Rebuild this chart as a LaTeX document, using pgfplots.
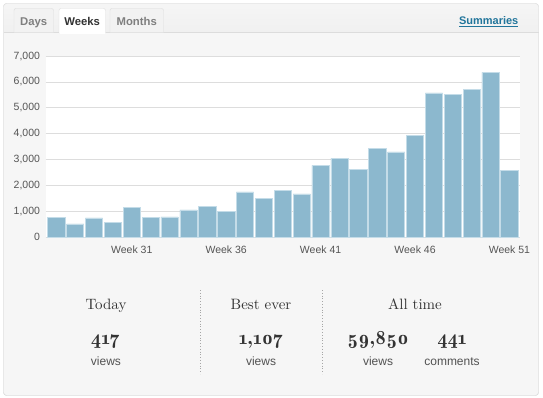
\documentclass[border=0pt]{standalone}
\usepackage{fontspec}
\setmainfont{Liberation Sans}
\newfontfamily\serif{lmroman10-regular}[Extension=.otf, Numbers=OldStyle]
\newfontfamily\serifdemi{lmromandemi10-regular}[Extension=.otf, Numbers=OldStyle]
\usepackage{pgfplots}
\pgfplotsset{compat=1.18}
\definecolor{barfill}{HTML}{8CB8CE}
\definecolor{baredge}{HTML}{C4DCE8}
\definecolor{gridc}{HTML}{DDDDDD}
\definecolor{panel}{HTML}{F6F6F6}
\definecolor{hdr}{HTML}{F0F0F0}
\definecolor{tabfill}{HTML}{F2F2F2}
\definecolor{bordc}{HTML}{DCDCDC}
\definecolor{linkc}{HTML}{21759B}
\definecolor{tabtext}{HTML}{7F7F7F}
\definecolor{ticktext}{HTML}{555555}
\definecolor{statc}{HTML}{333333}
\begin{document}
\begin{tikzpicture}
\useasboundingbox (0pt,0pt) rectangle (543pt,-398pt);
\fill[white] (0pt,0pt) rectangle (543pt,-398pt);
\begin{scope}[x=1pt,y=-1pt]
  % panel
  \draw[bordc, fill=panel, rounded corners=3pt] (3.5,3.5) rectangle (538.5,395.5);
  \begin{scope}
    \clip[rounded corners=3pt] (3.5,3.5) rectangle (538.5,395.5);
    \shade[top color=hdr!60!white, bottom color=hdr] (0,0) rectangle (543,32.5);
  \end{scope}
  \draw[bordc, rounded corners=3pt] (3.5,3.5) rectangle (538.5,395.5);
  \draw[bordc] (3.5,32.5) -- (538.5,32.5);
  % tabs
  \draw[bordc, fill=tabfill, rounded corners=2pt] (14,32.5) -- (14,8.5) -- (53.5,8.5) -- (53.5,32.5);
  \draw[bordc, fill=white, rounded corners=2pt] (59,33) -- (59,8.5) -- (105.5,8.5) -- (105.5,33);
  \fill[white] (59.5,32) rectangle (105,34);
  \draw[bordc, fill=tabfill, rounded corners=2pt] (110,32.5) -- (110,8.5) -- (163.5,8.5) -- (163.5,32.5);
  \node[anchor=base, inner sep=0pt, font=\bfseries\fontsize{11.3}{13}\selectfont, text=tabtext] at (33.7,25.3) {Days};
  \node[anchor=base, inner sep=0pt, font=\bfseries\fontsize{11.3}{13}\selectfont, text=statc] at (82.2,25.3) {Weeks};
  \node[anchor=base, inner sep=0pt, font=\bfseries\fontsize{11.3}{13}\selectfont, text=tabtext] at (136.7,25.3) {Months};
  \node[anchor=base, inner sep=0pt, font=\bfseries\fontsize{11}{13}\selectfont, text=linkc] at (488.7,24.5) {Summaries};
  \draw[linkc, line width=0.9pt] (459,26.3) -- (518.3,26.3);
  % stats
  \draw[gray!70, dotted, line width=0.8pt] (200,290) -- (200,374);
  \draw[gray!70, dotted, line width=0.8pt] (322,290) -- (322,374);
  \begin{scope}[every node/.style={anchor=base, inner sep=0pt}]
    \node[font=\serif\fontsize{15}{16}\selectfont, text=statc] at (106,309.3) {Today};
    \node[font=\serif\fontsize{15}{16}\selectfont, text=statc] at (261,309.3) {Best ever};
    \node[font=\serif\fontsize{15}{16}\selectfont, text=statc] at (415,309.3) {All time};
    \node[font=\serifdemi\fontsize{20}{24}\selectfont, text=statc] at (105.5,344) {417};
    \node[font=\serifdemi\fontsize{20}{24}\selectfont, text=statc] at (261,344) {1,107};
    \node[font=\serifdemi\fontsize{20}{24}\selectfont, text=statc] at (378,344) {59,850};
    \node[font=\serifdemi\fontsize{20}{24}\selectfont, text=statc] at (452,344) {441};
    \node[font=\fontsize{12}{14}\selectfont, text=statc!85] at (106,365) {views};
    \node[font=\fontsize{12}{14}\selectfont, text=statc!85] at (261,365) {views};
    \node[font=\fontsize{12}{14}\selectfont, text=statc!85] at (378,365) {views};
    \node[font=\fontsize{12}{14}\selectfont, text=statc!85] at (452,365) {comments};
  \end{scope}
\end{scope}
\begin{axis}[
  at={(45.7pt,-237.3pt)}, anchor=south west,
  scale only axis, width=474.3pt, height=181.3pt,
  xmin=-0.56, xmax=24.56, ymin=0, ymax=7000,
  axis background/.style={fill=white},
  axis line style={draw=none},
  ymajorgrids, grid style={gridc, line width=0.8pt},
  major tick length=0pt,
  ytick={0,1000,...,7000},
  scaled y ticks=false,
  /pgf/number format/assume math mode=true,
  /pgf/number format/1000 sep={,},
  yticklabel style={font=\fontsize{10.5}{12}\selectfont, text=ticktext, xshift=-2.2pt},
  xtick={4,9,14,19,24},
  xticklabels={Week 31,Week 36,Week 41,Week 46,Week 51},
  xticklabel style={font=\fontsize{10.5}{12}\selectfont, text=ticktext, yshift=-5pt},
  ybar, bar width=0.915,
]
\addplot[fill=barfill, draw=baredge, line width=0.6pt] coordinates {
(0,772) (1,515) (2,746) (3,579) (4,1158) (5,759) (6,785) (7,1055) (8,1197) (9,991)
(10,1750) (11,1506) (12,1802) (13,1673) (14,2780) (15,3050) (16,2625) (17,3436)
(18,3295) (19,3925) (20,5573) (21,5521) (22,5714) (23,6371) (24,2587)};
\end{axis}
\end{tikzpicture}
\end{document}
